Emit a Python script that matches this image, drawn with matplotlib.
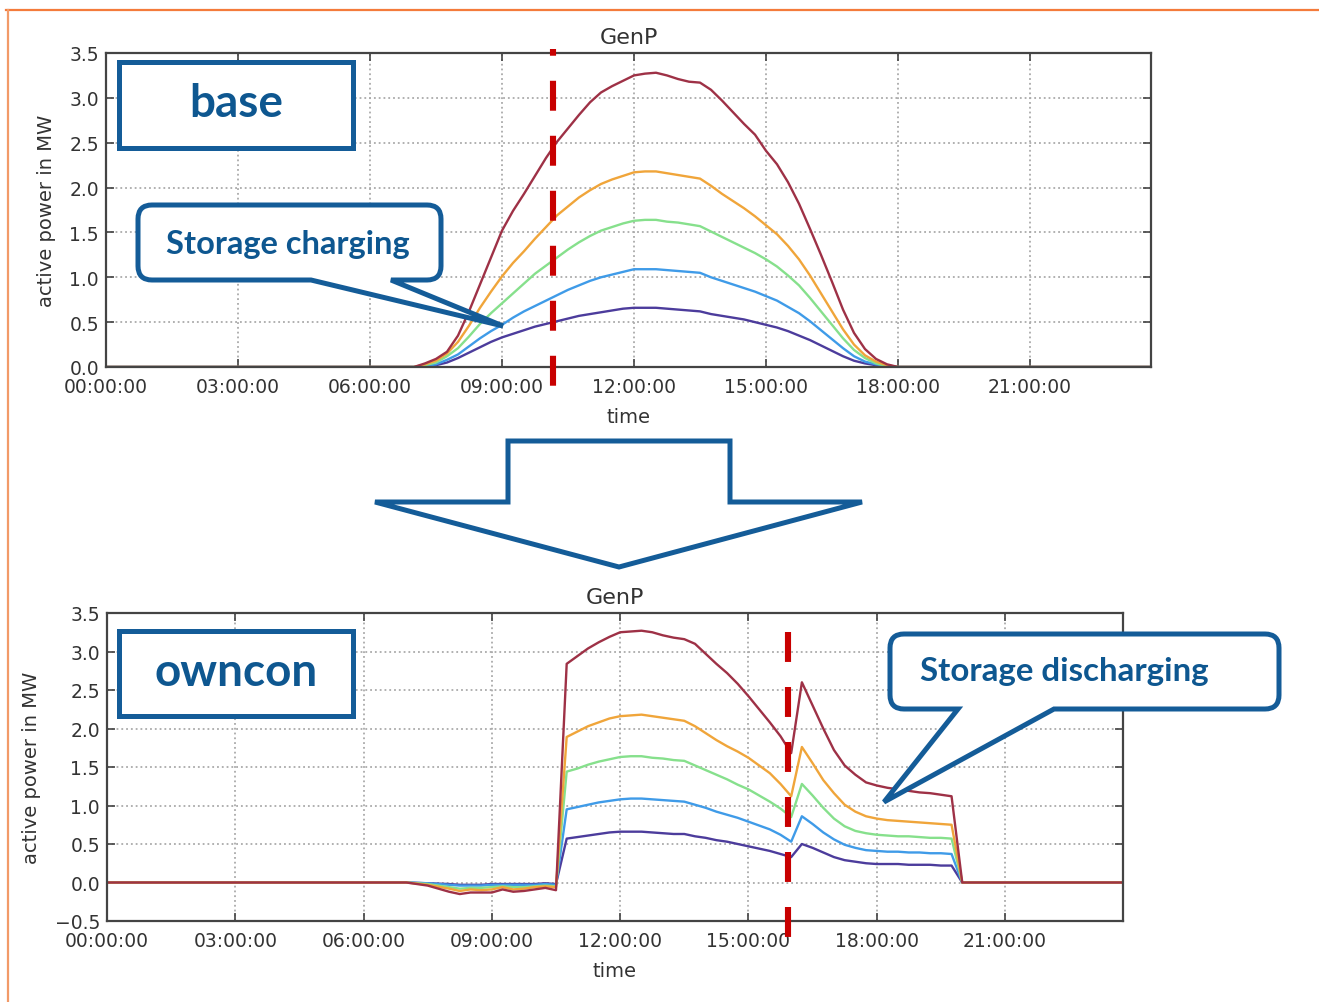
import matplotlib
matplotlib.use("Agg")
import matplotlib.pyplot as plt
from matplotlib.path import Path
from matplotlib.patches import PathPatch, Rectangle, Polygon
from matplotlib.ticker import FixedLocator, FuncFormatter

# ---------------------------------------------------------------- data
# "base" scenario: generator active power (MW) over the day, time in hours
hours_base = [0.0, 7.0, 7.25, 7.5, 7.75, 8.0, 8.25, 8.5, 8.75, 9.0, 9.25, 9.5, 9.75,
              10.0, 10.25, 10.5, 10.75, 11.0, 11.25, 11.5, 11.75, 12.0, 12.25, 12.5,
              12.75, 13.0, 13.25, 13.5, 13.75, 14.0, 14.25, 14.5, 14.75, 15.0, 15.25,
              15.5, 15.75, 16.0, 16.25, 16.5, 16.75, 17.0, 17.25, 17.5, 17.75, 18.0,
              23.75]
base_purple = [0, 0, 0.01, 0.02, 0.05, 0.10, 0.16, 0.22, 0.28, 0.33, 0.37, 0.41, 0.45,
               0.48, 0.51, 0.54, 0.57, 0.59, 0.61, 0.63, 0.65, 0.66, 0.66, 0.66,
               0.65, 0.64, 0.63, 0.62, 0.59, 0.57, 0.55, 0.53, 0.50, 0.47, 0.44,
               0.40, 0.35, 0.30, 0.24, 0.18, 0.12, 0.07, 0.04, 0.02, 0.01, 0, 0]
base_blue = [0, 0, 0.01, 0.03, 0.08, 0.14, 0.23, 0.32, 0.40, 0.47, 0.55, 0.62, 0.68,
             0.74, 0.80, 0.86, 0.91, 0.96, 1.00, 1.03, 1.06, 1.09, 1.09, 1.09,
             1.08, 1.07, 1.06, 1.05, 1.00, 0.96, 0.92, 0.88, 0.84, 0.79, 0.74,
             0.67, 0.60, 0.51, 0.41, 0.31, 0.21, 0.12, 0.06, 0.03, 0.01, 0, 0]
base_green = [0, 0, 0.02, 0.05, 0.12, 0.21, 0.34, 0.48, 0.60, 0.71, 0.82, 0.93, 1.04,
              1.13, 1.22, 1.31, 1.39, 1.46, 1.52, 1.56, 1.60, 1.63, 1.64, 1.64,
              1.62, 1.61, 1.59, 1.57, 1.51, 1.45, 1.39, 1.33, 1.27, 1.20, 1.12,
              1.02, 0.91, 0.77, 0.62, 0.47, 0.32, 0.19, 0.10, 0.04, 0.01, 0, 0]
base_orange = [0, 0, 0.03, 0.07, 0.15, 0.28, 0.46, 0.66, 0.84, 1.01, 1.16, 1.29, 1.43,
               1.56, 1.69, 1.79, 1.89, 1.97, 2.04, 2.09, 2.13, 2.17, 2.18, 2.18,
               2.16, 2.14, 2.12, 2.10, 2.02, 1.93, 1.85, 1.77, 1.68, 1.58, 1.48,
               1.35, 1.20, 1.02, 0.82, 0.62, 0.42, 0.25, 0.13, 0.06, 0.02, 0, 0]
base_red = [0, 0, 0.04, 0.09, 0.17, 0.35, 0.62, 0.92, 1.22, 1.52, 1.74, 1.93, 2.13,
            2.33, 2.51, 2.66, 2.81, 2.95, 3.06, 3.13, 3.19, 3.25, 3.27, 3.28,
            3.25, 3.21, 3.18, 3.17, 3.09, 2.97, 2.84, 2.71, 2.59, 2.41, 2.26,
            2.06, 1.82, 1.54, 1.25, 0.95, 0.64, 0.38, 0.20, 0.09, 0.03, 0, 0]

# "owncon" scenario
hours_own = [0.0, 7.0, 7.5, 8.0, 8.25, 8.5, 8.75, 9.0, 9.25, 9.5, 9.75, 10.0, 10.25,
             10.5, 10.75, 11.0, 11.25, 11.5, 11.75, 12.0, 12.25, 12.5, 12.75, 13.0,
             13.25, 13.5, 13.75, 14.0, 14.25, 14.5, 14.75, 15.0, 15.25, 15.5, 15.75,
             16.0, 16.25, 16.5, 16.75, 17.0, 17.25, 17.5, 17.75, 18.0, 18.25, 18.5,
             18.75, 19.0, 19.25, 19.5, 19.75, 20.0, 23.75]
own_purple = [0, 0, -0.01, -0.02, -0.03, -0.03, -0.03, -0.02, -0.02, -0.02, -0.02, -0.02, -0.01,
              -0.02, 0.57, 0.59, 0.61, 0.63, 0.65, 0.66, 0.66, 0.66, 0.65, 0.64,
              0.63, 0.63, 0.60, 0.58, 0.55, 0.53, 0.50, 0.47, 0.44, 0.41, 0.37,
              0.33, 0.50, 0.45, 0.39, 0.33, 0.29, 0.27, 0.25, 0.24, 0.24, 0.24,
              0.23, 0.23, 0.23, 0.22, 0.22, 0, 0]
own_blue = [0, 0, -0.01, -0.03, -0.04, -0.04, -0.04, -0.03, -0.03, -0.03, -0.03, -0.03, -0.02,
            -0.03, 0.95, 0.98, 1.01, 1.04, 1.06, 1.08, 1.09, 1.09, 1.08, 1.07,
            1.06, 1.05, 1.01, 0.97, 0.92, 0.88, 0.84, 0.79, 0.74, 0.69, 0.62,
            0.53, 0.86, 0.76, 0.65, 0.56, 0.49, 0.45, 0.42, 0.41, 0.40, 0.40,
            0.39, 0.39, 0.38, 0.38, 0.37, 0, 0]
own_green = [0, 0, -0.02, -0.06, -0.08, -0.07, -0.07, -0.06, -0.05, -0.06, -0.06, -0.05, -0.04,
             -0.05, 1.44, 1.48, 1.53, 1.57, 1.60, 1.63, 1.64, 1.64, 1.62, 1.61,
             1.59, 1.58, 1.52, 1.46, 1.40, 1.34, 1.27, 1.21, 1.13, 1.05, 0.96,
             0.85, 1.28, 1.13, 0.97, 0.83, 0.73, 0.67, 0.64, 0.62, 0.61, 0.60,
             0.60, 0.59, 0.58, 0.58, 0.57, 0, 0]
own_orange = [0, 0, -0.03, -0.08, -0.11, -0.09, -0.10, -0.09, -0.06, -0.09, -0.08, -0.06, -0.05,
              -0.06, 1.89, 1.96, 2.03, 2.08, 2.13, 2.16, 2.17, 2.18, 2.16, 2.14,
              2.12, 2.10, 2.03, 1.94, 1.85, 1.77, 1.70, 1.62, 1.52, 1.42, 1.28,
              1.12, 1.76, 1.55, 1.33, 1.16, 1.01, 0.92, 0.86, 0.83, 0.81, 0.80,
              0.79, 0.78, 0.77, 0.76, 0.75, 0, 0]
own_red = [0, 0, -0.04, -0.12, -0.15, -0.13, -0.13, -0.13, -0.09, -0.12, -0.11, -0.09, -0.07,
           -0.10, 2.84, 2.94, 3.04, 3.12, 3.19, 3.25, 3.26, 3.27, 3.25, 3.21,
           3.18, 3.16, 3.10, 2.97, 2.84, 2.72, 2.58, 2.42, 2.25, 2.08, 1.90,
           1.68, 2.60, 2.30, 2.00, 1.72, 1.52, 1.40, 1.30, 1.26, 1.23, 1.21,
           1.19, 1.17, 1.16, 1.14, 1.12, 0, 0]

charge_start = 10.15      # storage starts charging (base)
discharge_start = 15.93   # storage starts discharging (owncon)

x_ticks = [0, 3, 6, 9, 12, 15, 18, 21]
y_ticks_base = [0.0, 0.5, 1.0, 1.5, 2.0, 2.5, 3.0, 3.5]
y_ticks_own = [-0.5, 0.0, 0.5, 1.0, 1.5, 2.0, 2.5, 3.0, 3.5]

line_colors = ['#4c3c9c', '#3f9be8', '#86e08c', '#f0a53a', '#9e3146']
box_blue = '#145c98'
text_blue = '#0e5790'

# ---------------------------------------------------------------- figure
W, H = 1319, 1003
fig = plt.figure(figsize=(W / 100, H / 100), dpi=100)
fig.patch.set_facecolor('white')


def px_rect(left, right, top, bottom):
    return [left / W, 1 - bottom / H, (right - left) / W, (bottom - top) / H]


def style_axes(ax, yticks, ylim, ylabelpad):
    ax.set_xlim(0, 23.75)
    ax.set_ylim(*ylim)
    ax.xaxis.set_major_locator(FixedLocator(x_ticks))
    ax.xaxis.set_major_formatter(FuncFormatter(lambda v, p: f"{int(round(v)):02d}:00:00"))
    ax.yaxis.set_major_locator(FixedLocator(yticks))
    ax.yaxis.set_major_formatter(FuncFormatter(lambda v, p: f"{v:.1f}".replace('-', '\u2212')))
    ax.tick_params(direction='in', top=True, right=True, length=6, width=1.2,
                   color='#444444', labelsize=13.5, labelcolor='#333333')
    ax.tick_params(axis='x', pad=7)
    ax.tick_params(axis='y', pad=5)
    ax.grid(True, color='#aaaaaa', linestyle=':', linewidth=1.3)
    for sp in ax.spines.values():
        sp.set_color('#444444')
        sp.set_linewidth(1.6)
    ax.set_title('GenP', fontsize=16, color='#333333', pad=7)
    ax.set_xlabel('time', fontsize=14, color='#333333', labelpad=8)
    ax.set_ylabel('active power in MW', fontsize=14, color='#333333', labelpad=ylabelpad)


# top chart: base
ax1 = fig.add_axes(px_rect(106, 1151, 54, 368))
for vals, c in zip([base_purple, base_blue, base_green, base_orange, base_red], line_colors):
    ax1.plot(hours_base, vals, color=c, lw=1.7)
style_axes(ax1, y_ticks_base, (0.0, 3.5), 10)
ax1.plot([charge_start, charge_start], [3.545, -0.223], color='#c80000', lw=4.4,
         linestyle=(3.8, (4.9, 4.1)), clip_on=False, dash_capstyle='butt', zorder=5)

# bottom chart: owncon
ax2 = fig.add_axes(px_rect(107, 1122.6, 614, 922))
for vals, c in zip([own_purple, own_blue, own_green, own_orange, own_red], line_colors):
    ax2.plot(hours_own, vals, color=c, lw=1.7)
style_axes(ax2, y_ticks_own, (-0.5, 3.5), 10)
ax2.plot([discharge_start, discharge_start], [3.253, -0.708], color='#c80000', lw=4.4,
         linestyle=(0, (4.9, 4.1)), clip_on=False, dash_capstyle='butt', zorder=5)

# ---------------------------------------------------------------- overlay shapes
ov = fig.add_axes([0, 0, 1, 1], zorder=10)
ov.set_xlim(0, W)
ov.set_ylim(H, 0)
ov.axis('off')
ov.patch.set_alpha(0)

# page frame
ov.plot([6, W], [11, 11], color='#f47b3b', lw=1.6)
ov.plot([8, 8], [11, H], color='#f29a68', lw=1.6)


def callout(L, R, T, B, r, tail_a, tail_b, tip):
    """Rounded rectangle with a wedge tail leaving the bottom edge."""
    verts = [(L + r, T), (R - r, T), (R, T), (R, T + r), (R, B - r), (R, B), (R - r, B),
             (tail_b, B), tip, (tail_a, B), (L + r, B), (L, B), (L, B - r),
             (L, T + r), (L, T), (L + r, T), (L + r, T)]
    codes = [Path.MOVETO, Path.LINETO, Path.CURVE3, Path.CURVE3, Path.LINETO,
             Path.CURVE3, Path.CURVE3, Path.LINETO, Path.LINETO, Path.LINETO,
             Path.LINETO, Path.CURVE3, Path.CURVE3, Path.LINETO, Path.CURVE3,
             Path.CURVE3, Path.CLOSEPOLY]
    return PathPatch(Path(verts, codes), facecolor='white', edgecolor=box_blue,
                     lw=3.6, joinstyle='miter')


lbl = dict(family=['Lato', 'DejaVu Sans'], weight='bold', color=text_blue,
           ha='center', va='center')

# scenario labels
ov.add_patch(Rectangle((119, 63), 234, 86, facecolor='white', edgecolor=box_blue, lw=3.6))
ov.text(236, 104, 'base', fontsize=33, **lbl)
ov.add_patch(Rectangle((119, 632), 234, 85, facecolor='white', edgecolor=box_blue, lw=3.6))
ov.text(236, 673, 'owncon', fontsize=33, **lbl)

# callouts
ov.add_patch(callout(138, 441, 206, 281, 14, 311, 391, (503, 327)))
ov.text(288, 244, 'Storage charging', fontsize=23.5, **lbl)
ov.add_patch(callout(890, 1279, 635, 710, 14, 958, 1054, (884, 803)))
ov.text(1064, 672, 'Storage discharging', fontsize=23.8, **lbl)

# transition arrow
ov.add_patch(Polygon([(508, 442), (730, 442), (730, 503), (862, 503), (619, 568),
                      (375, 503), (508, 503)], closed=True, facecolor='white',
                     edgecolor=box_blue, lw=3.6, joinstyle='miter'))

fig.savefig('out.png', dpi=100, facecolor='white')
